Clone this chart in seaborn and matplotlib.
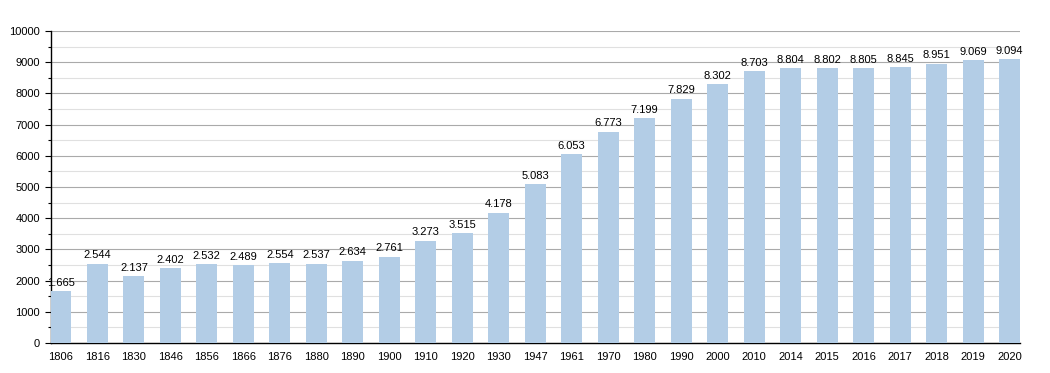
import matplotlib.pyplot as plt
import seaborn as sns
from matplotlib.ticker import MultipleLocator

years = ['1806', '1816', '1830', '1846', '1856', '1866', '1876', '1880', '1890', '1900',
         '1910', '1920', '1930', '1947', '1961', '1970', '1980', '1990', '2000', '2010',
         '2014', '2015', '2016', '2017', '2018', '2019', '2020']
population = [1665, 2544, 2137, 2402, 2532, 2489, 2554, 2537, 2634, 2761,
              3273, 3515, 4178, 5083, 6053, 6773, 7199, 7829, 8302, 8703,
              8804, 8802, 8805, 8845, 8951, 9069, 9094]

sns.set_style('white')
plt.rcParams['font.family'] = ['Liberation Sans', 'DejaVu Sans']
plt.rcParams['text.color'] = 'black'
plt.rcParams['xtick.color'] = 'black'
plt.rcParams['ytick.color'] = 'black'

bar_w = 0.57

fig = plt.figure(figsize=(10.5, 3.73), dpi=100)
ax = fig.add_axes([50.5 / 1050, 30 / 373, 969.5 / 1050, 312 / 373])

sns.barplot(x=years, y=population, color='#b3cde6', saturation=1, width=bar_w,
            linewidth=0, ax=ax, zorder=3)

for i, v in enumerate(population):
    ax.text(i, v + 110, f'{v:,}'.replace(',', '.'), ha='center', va='bottom',
            fontsize=8, color='black', zorder=4)

ax.set_ylim(0, 10000)
ax.set_xlim(-bar_w / 2, len(years) - 1 + bar_w / 2)
ax.yaxis.set_major_locator(MultipleLocator(1000))
ax.yaxis.set_minor_locator(MultipleLocator(500))
ax.grid(axis='y', which='major', color='#aaaaaa', linewidth=0.8, zorder=0)
ax.grid(axis='y', which='minor', color='#e0e0e0', linewidth=0.8, zorder=0)
ax.set_axisbelow(True)

for s in ['top', 'right']:
    ax.spines[s].set_visible(False)
ax.spines['left'].set_color('black')
ax.spines['bottom'].set_color('black')
ax.spines['left'].set_linewidth(1)
ax.spines['bottom'].set_linewidth(1)

ax.tick_params(axis='y', which='major', left=True, length=4, width=0.8, labelsize=8)
ax.tick_params(axis='y', which='minor', left=True, length=2, width=0.8)
ax.tick_params(axis='x', bottom=False, labelsize=8, pad=3)

fig.savefig('out.png', dpi=100)
